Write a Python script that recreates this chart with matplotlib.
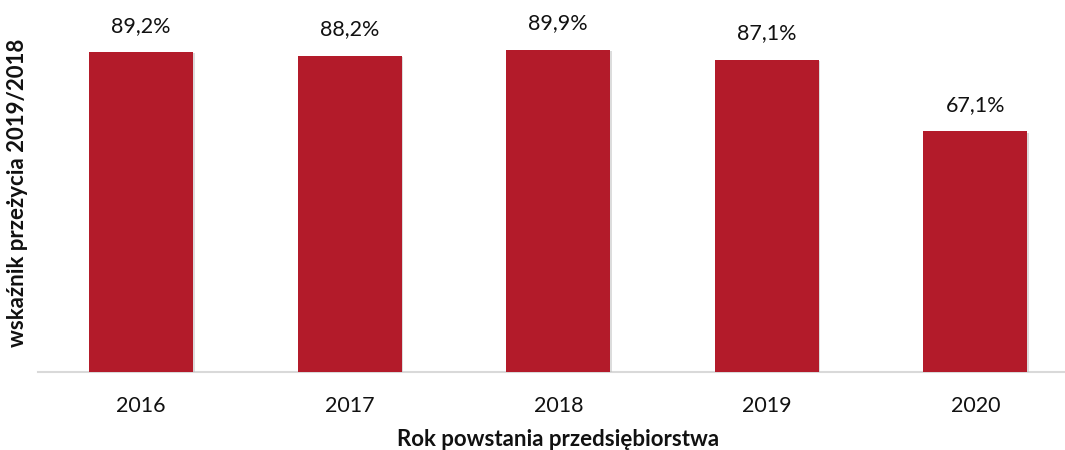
import matplotlib
matplotlib.use("Agg")
import matplotlib.pyplot as plt
import matplotlib.patheffects as pe

years = ["2016", "2017", "2018", "2019", "2020"]
survival = [89.2, 88.2, 89.9, 87.1, 67.1]

plt.rcParams["font.family"] = ["Lato", "DejaVu Sans"]

fig = plt.figure(figsize=(10.65, 4.5), dpi=100)
ax = fig.add_axes([38 / 1065, 1 - 372 / 450, 1 - 38 / 1065, 372 / 450])

bars = ax.bar(range(len(years)), survival, width=0.5, color="#b31b2a", zorder=3)
for b in bars:
    b.set_path_effects([pe.SimplePatchShadow(offset=(1, -1), shadow_rgbFace="#bbbbbb", alpha=0.5), pe.Normal()])

for i, v in enumerate(survival):
    ax.text(i, v + 7.3, f"{v:.1f}%".replace(".", ","), ha="center", va="center",
            fontsize=15.5, color="#111111")

ax.set_xlim(-0.495, 4.43)
ax.set_ylim(0, 103.7)
ax.set_xticks(range(len(years)))
ax.set_xticklabels(years, fontsize=15.5, color="#111111")
ax.set_yticks([])
ax.tick_params(axis="x", length=0, pad=17)
for s in ["top", "right", "left"]:
    ax.spines[s].set_visible(False)
ax.spines["bottom"].set_color("#d9d9d9")
ax.spines["bottom"].set_linewidth(1.5)

fig.text(558 / 1065, 1 - 440 / 450, "Rok powstania przedsiębiorstwa", ha="center", va="center",
         fontsize=16, fontweight="bold", color="#111111")
fig.text(18 / 1065, 1 - 193 / 450, "wskaźnik przeżycia 2019/2018", ha="center", va="center",
         rotation=90, fontsize=16, fontweight="bold", color="#111111")

fig.savefig("out.png", dpi=100)
